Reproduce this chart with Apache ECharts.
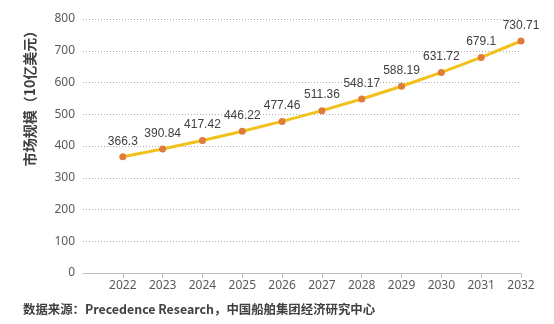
<!DOCTYPE html>
<html>
<head>
<meta charset="utf-8">
<script src="https://cdn.jsdelivr.net/npm/echarts@6/dist/echarts.min.js"></script>
<style>html,body{margin:0;padding:0;background:#fff}#c{width:554px;height:324px}</style>
</head>
<body>
<div id="c"></div>
<script>
var years = [2022, 2023, 2024, 2025, 2026, 2027, 2028, 2029, 2030, 2031, 2032];
var values = [366.3, 390.84, 417.42, 446.22, 477.46, 511.36, 548.17, 588.19, 631.72, 679.1, 730.71];
var yTicks = [0, 100, 200, 300, 400, 500, 600, 700, 800];
var yName = '市场规模（10亿美元）';
var sourceText = '数据来源：Precedence Research，中国船舶集团经济研究中心';

var chart = echarts.init(document.getElementById('c'));
chart.setOption({
  animation: false,
  grid: { left: 83, right: 33, top: 19, bottom: 51 },
  xAxis: {
    type: 'value',
    min: 2021, max: 2032, interval: 1,
    axisLine: { show: true, lineStyle: { color: '#BFBFBF', width: 1 } },
    axisTick: { show: true, length: 5, lineStyle: { color: '#BFBFBF' } },
    axisLabel: { showMinLabel: false, color: '#595959', fontSize: 12, fontFamily: 'Noto Sans', margin: 7,
      formatter: function (v) { return v === 2021 ? '' : String(v); } },
    splitLine: { show: false }
  },
  yAxis: {
    type: 'value',
    min: yTicks[0], max: yTicks[yTicks.length - 1], interval: 100,
    axisLine: { show: false },
    axisTick: { show: false },
    axisLabel: { color: '#595959', fontSize: 12, fontFamily: 'Noto Sans', margin: 8 },
    splitLine: { show: true, lineStyle: { color: '#ADADAD', type: [1, 2], width: 1 } }
  },
  series: [{
    type: 'line',
    data: years.map(function (y, i) { return [y, values[i]]; }),
    lineStyle: { color: '#F1C21B', width: 3 },
    itemStyle: { color: '#E07B39' },
    symbol: 'circle',
    symbolSize: 7,
    label: { show: true, position: 'top', distance: 6, color: '#404040', fontSize: 12, fontFamily: 'Liberation Sans',
      formatter: function (p) { return String(p.value[1]); } }
  }],
  graphic: [
    { type: 'text', x: 30, y: 95, rotation: Math.PI / 2,
      style: { text: yName, fill: '#404040', font: 'bold 14px "Noto Sans CJK SC"', align: 'center', verticalAlign: 'middle' } },
    { type: 'text', x: 23, y: 309,
      style: { text: sourceText, fill: '#404040', font: 'bold 12.4px "Noto Sans CJK SC"', align: 'left', verticalAlign: 'middle' } }
  ]
});
</script>
</body>
</html>
